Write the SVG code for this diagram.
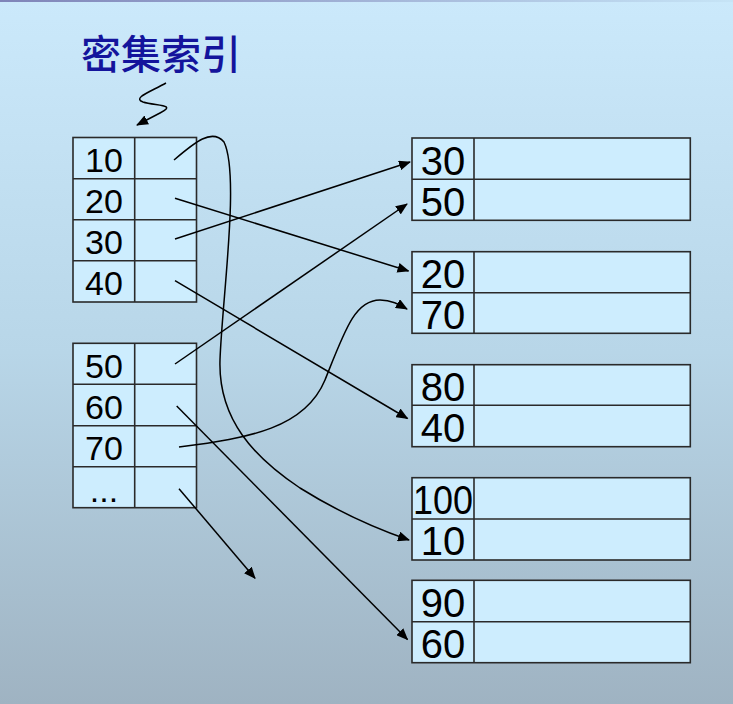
<svg xmlns="http://www.w3.org/2000/svg" width="733" height="704" viewBox="0 0 733 704">
<defs>
<linearGradient id="bg" x1="0" y1="0" x2="0" y2="1">
<stop offset="0" stop-color="#cbe9fb"/>
<stop offset="0.5" stop-color="#b8d6e8"/>
<stop offset="1" stop-color="#9fb3c2"/>
</linearGradient>
<linearGradient id="topline" x1="0" y1="0" x2="1" y2="0">
<stop offset="0" stop-color="#7f84b8"/>
<stop offset="1" stop-color="#c6e4f6"/>
</linearGradient>
<marker id="ah" viewBox="0 0 12 10" refX="11" refY="5" markerWidth="12" markerHeight="10" markerUnits="userSpaceOnUse" orient="auto">
<path d="M0,0 L12,5 L0,10 Z" fill="#000"/>
</marker>
</defs>
<style>
.cell{fill:#cdedfe;stroke:#2a2a2a;stroke-width:1.6}
.ln{fill:none;stroke:#2a2a2a;stroke-width:1.6}
.ls{font-family:"Liberation Sans",Arial,sans-serif;font-size:34px;fill:#000;text-anchor:middle}
.rs{font-family:"Liberation Sans",Arial,sans-serif;font-size:40px;fill:#000;text-anchor:middle}
.c{fill:none;stroke:#000;stroke-width:1.5}
.title{font-family:"Noto Sans CJK SC","Noto Sans CJK JP",sans-serif;font-size:40px;font-weight:500;fill:#14149c}
</style>
<rect x="0" y="0" width="733" height="704" fill="url(#bg)"/>
<rect x="0" y="0" width="733" height="2" fill="url(#topline)"/>

<g id="title">
<text class="title" x="81" y="69">密集索引</text>
<path class="c" d="M166,83 C150,92 132,98 143,102 C155,106 178,104 160,113 L137,125" marker-end="url(#ah)"/>
</g>

<g id="index1">
<rect class="cell" x="73" y="137.5" width="123.5" height="164.5"/>
<line class="ln" x1="134.7" y1="137.5" x2="134.7" y2="302"/>
<line class="ln" x1="73" y1="178.7" x2="196.5" y2="178.7"/>
<line class="ln" x1="73" y1="219.7" x2="196.5" y2="219.7"/>
<line class="ln" x1="73" y1="260.7" x2="196.5" y2="260.7"/>
<text class="ls" x="104" y="172">10</text>
<text class="ls" x="104" y="213">20</text>
<text class="ls" x="104" y="254">30</text>
<text class="ls" x="104" y="295">40</text>
</g>

<g id="index2">
<rect class="cell" x="73" y="343.3" width="123.5" height="164.4"/>
<line class="ln" x1="134.7" y1="343.3" x2="134.7" y2="507.7"/>
<line class="ln" x1="73" y1="384.3" x2="196.5" y2="384.3"/>
<line class="ln" x1="73" y1="425.7" x2="196.5" y2="425.7"/>
<line class="ln" x1="73" y1="466.7" x2="196.5" y2="466.7"/>
<text class="ls" x="104" y="378">50</text>
<text class="ls" x="104" y="419">60</text>
<text class="ls" x="104" y="460">70</text>
<text class="ls" x="104" y="502">...</text>
</g>

<g id="blockA">
<rect class="cell" x="412" y="138" width="278.3" height="82.3"/>
<line class="ln" x1="474" y1="138" x2="474" y2="220.3"/>
<line class="ln" x1="412" y1="179.3" x2="690.3" y2="179.3"/>
<text class="rs" x="443" y="175">30</text>
<text class="rs" x="443" y="216">50</text>
</g>

<g id="blockB">
<rect class="cell" x="412" y="251.7" width="278.3" height="81.6"/>
<line class="ln" x1="474" y1="251.7" x2="474" y2="333.3"/>
<line class="ln" x1="412" y1="292.7" x2="690.3" y2="292.7"/>
<text class="rs" x="443" y="288">20</text>
<text class="rs" x="443" y="329">70</text>
</g>

<g id="blockC">
<rect class="cell" x="412" y="364.7" width="278.3" height="82"/>
<line class="ln" x1="474" y1="364.7" x2="474" y2="446.7"/>
<line class="ln" x1="412" y1="405.3" x2="690.3" y2="405.3"/>
<text class="rs" x="443" y="401">80</text>
<text class="rs" x="443" y="442">40</text>
</g>

<g id="blockD">
<rect class="cell" x="412" y="477.7" width="278.3" height="82.3"/>
<line class="ln" x1="474" y1="477.7" x2="474" y2="560"/>
<line class="ln" x1="412" y1="519" x2="690.3" y2="519"/>
<text class="rs" x="443" y="514" textLength="60" lengthAdjust="spacingAndGlyphs">100</text>
<text class="rs" x="443" y="555">10</text>
</g>

<g id="blockE">
<rect class="cell" x="412" y="580.3" width="278.3" height="82.4"/>
<line class="ln" x1="474" y1="580.3" x2="474" y2="662.7"/>
<line class="ln" x1="412" y1="621.7" x2="690.3" y2="621.7"/>
<text class="rs" x="443" y="617">90</text>
<text class="rs" x="443" y="658">60</text>
</g>

<g id="connectors">
<path class="c" d="M174,160 C195,142 212,128 224,142 C240,175 222,300 220,360 C218,420 255,458 300,488 C340,513 380,530 409,540" marker-end="url(#ah)"/>
<path class="c" d="M175,198.3 L408.5,271" marker-end="url(#ah)"/>
<path class="c" d="M175,239 L410,162" marker-end="url(#ah)"/>
<path class="c" d="M175,280.7 L407.5,418.5" marker-end="url(#ah)"/>
<path class="c" d="M175,364 L407,204" marker-end="url(#ah)"/>
<path class="c" d="M176.7,406 L407.5,639.5" marker-end="url(#ah)"/>
<path class="c" d="M179,447 C250,438 305,428 325,380 C345,330 355,300 380,300 C392,300 400,305 407,309" marker-end="url(#ah)"/>
<path class="c" d="M179,488.7 L255,578.3" marker-end="url(#ah)"/>
</g>
</svg>
